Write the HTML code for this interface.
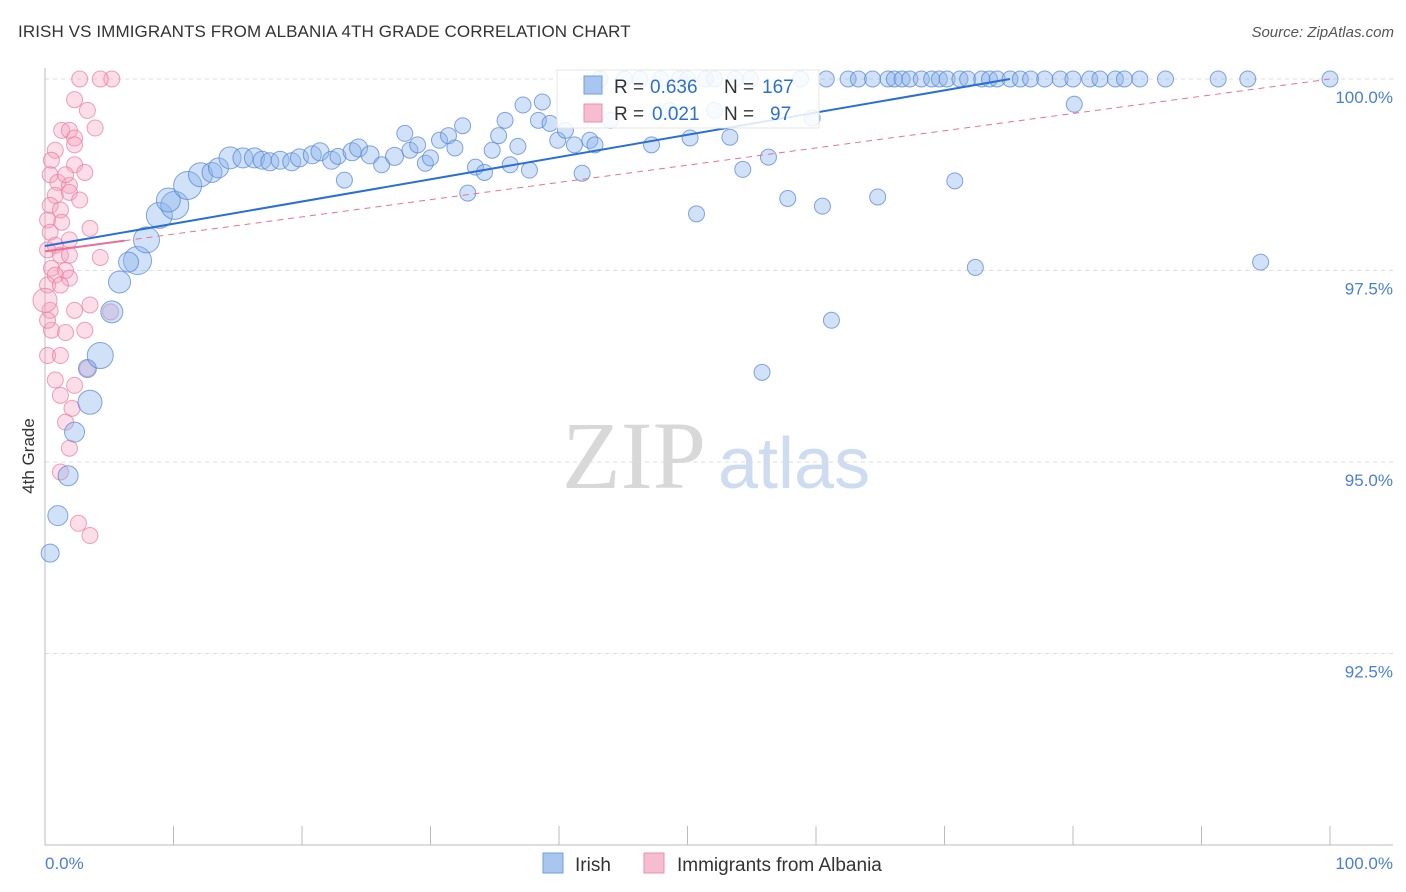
<!DOCTYPE html>
<html><head><meta charset="utf-8">
<style>
body{margin:0;background:#fff;font-family:"Liberation Sans",sans-serif;}
#wrap{position:relative;width:1406px;height:892px;overflow:hidden;}
.title{position:absolute;left:18px;top:22px;font-size:17px;color:#333;letter-spacing:0.1px}
.source{position:absolute;right:12px;top:24px;font-size:15px;color:#555;font-style:italic}
</style></head>
<body>
<div id="wrap">
<div class="title">IRISH VS IMMIGRANTS FROM ALBANIA 4TH GRADE CORRELATION CHART</div>
<div class="source">Source: ZipAtlas.com</div>
<svg id="svg" width="1406" height="892" style="position:absolute;left:0;top:0"></svg>
</div>
<script>
const yTicks=[100,97.5,95,92.5];
const yTickLabels=["100.0%","97.5%","95.0%","92.5%"];
const xTicks=[0,10,20,30,40,50,60,70,80,90,100];
const irishX=[0.4,1.0,1.8,2.3,3.5,3.3,4.3,5.2,5.8,7.2,6.5,7.9,8.9,10.1,9.6,11.1,12.1,13.0,13.5,14.4,15.4,16.3,16.9,17.5,18.3,19.2,19.8,20.8,21.4,22.3,22.8,23.3,23.9,24.4,25.3,26.2,27.2,28.0,28.4,29.0,29.6,30.0,30.7,31.4,31.9,32.5,32.9,33.5,34.2,34.8,35.3,35.8,36.2,36.8,37.2,37.7,38.4,38.7,39.3,39.9,40.5,41.2,41.8,42.4,42.8,44.0,45.1,46.3,47.2,47.9,48.6,49.4,50.2,50.7,51.4,52.1,53.3,53.7,54.3,54.9,56.3,57.8,58.8,59.7,60.5,60.8,61.2,62.5,63.3,64.4,64.8,65.6,66.1,66.7,67.3,68.2,69.0,69.6,70.2,70.8,71.2,71.8,72.4,72.9,73.5,74.1,75.1,75.9,76.7,77.8,79.0,80.0,80.1,81.3,82.1,83.3,84.0,85.2,87.2,91.3,93.6,94.6,100,55.8,50.0,52.1,43.2];
const irishY=[93.81,94.30,94.82,95.39,95.78,96.22,96.39,96.96,97.35,97.63,97.61,97.90,98.22,98.35,98.42,98.61,98.75,98.78,98.84,98.97,98.97,98.97,98.94,98.92,98.94,98.92,98.97,99.01,99.05,98.94,98.99,98.68,99.05,99.10,99.01,98.88,98.99,99.29,99.07,99.14,98.90,98.97,99.20,99.26,99.10,99.39,98.51,98.85,98.78,99.07,99.26,99.46,98.88,99.12,99.66,98.81,99.46,99.70,99.42,99.20,99.33,99.14,98.77,99.20,99.14,99.46,100,100,99.14,100,99.59,100,99.23,98.24,100,99.59,99.24,100,98.82,100,98.98,98.44,100,99.49,98.34,100,96.85,100,100,100,98.46,100,100,100,100,100,100,100,100,98.67,100,100,97.54,100,100,100,100,100,100,100,100,100,99.67,100,100,100,100,100,100,100,100,97.61,100,96.17,100,100,100];
const irishR=[9,10,10,10,12,9,13,11,11,14,10,13,13,14,12,14,12,10,10,11,10,10,9,9,9,9,9,9,9,9,8,8,9,9,9,8,9,8,8,8,8,8,8,8,8,8,8,8,8,8,8,8,8,8,8,8,8,8,8,8,8,8,8,8,8,8,8,8,8,8,8,8,8,8,8,8,8,8,8,8,8,8,8,8,8,8,8,8,8,8,8,8,8,8,8,8,8,8,8,8,8,8,8,8,8,8,8,8,8,8,8,8,8,8,8,8,8,8,8,8,8,8,8,8,8,8,8,8,8];
const albX=[2.7,5.2,2.3,3.3,1.3,1.9,3.9,2.3,0.8,2.3,0.5,2.3,3.1,0.4,1.0,1.9,1.6,0.8,1.9,2.7,0.4,1.2,0.2,1.3,3.5,0.4,1.9,0.8,0.2,1.2,1.9,4.3,0.5,1.6,0.8,1.9,0.2,1.2,3.5,0.4,2.3,5.1,0.5,1.6,3.1,0.2,1.2,3.3,0.8,2.3,1.2,2.1,1.6,1.9,1.2,2.6,3.5,0.2,4.3,0.0];
const albY=[100,100,99.73,99.59,99.33,99.33,99.36,99.23,99.07,99.14,98.94,98.88,98.78,98.75,98.65,98.61,98.75,98.48,98.52,98.42,98.35,98.29,98.16,98.13,98.05,98.00,97.90,97.83,97.77,97.70,97.70,97.67,97.53,97.50,97.44,97.40,97.31,97.31,97.05,96.98,96.98,96.96,96.72,96.69,96.72,96.39,96.39,96.22,96.07,96.00,95.87,95.70,95.52,95.18,94.87,94.20,94.04,96.85,100,97.11];
const irishTrend=[[0,97.82],[75.1,100]];
const albTrend=[[0,97.75],[100,100]];
const albSolidEnd=6.2;

const X0=45,X1=1330,YT=79,YB=845;
function sx(v){return X0+(X1-X0)*v/100;}
function sy(v){return YT+(100-v)/10*(YB-YT);}
const svg=document.getElementById('svg');
const NS='http://www.w3.org/2000/svg';
function mk(t,a,p){const e=document.createElementNS(NS,t);for(const k in a)e.setAttribute(k,a[k]);(p||svg).appendChild(e);return e;}

// watermark
let wm=mk('text',{x:634,y:488,'font-size':96,fill:'#d8d8d8','font-family':'Liberation Serif,serif','text-anchor':'middle'});
wm.textContent='ZIP';


let wm2=mk('text',{x:718,y:488,'font-size':72,fill:'#cddcf0','font-family':'Liberation Sans,sans-serif'});
wm2.textContent='atlas';



// gridlines + y labels
yTicks.forEach((v,i)=>{
  let g=mk('line',{x1:X0,x2:1393,y1:sy(v),y2:sy(v),stroke:'#dddddd','stroke-dasharray':'4,4'});
  
  
  let t=mk('text',{x:1393,y:sy(v)+24,'text-anchor':'end','font-size':17,fill:'#4a7fd6'});
  t.textContent=yTickLabels[i];
  
  
});
// axes
let ax=mk('line',{x1:X0,x2:X0,y1:68,y2:YB,stroke:'#bbb'});


let bx=mk('line',{x1:X0,x2:1393,y1:YB,y2:YB,stroke:'#bbb'});


xTicks.forEach(v=>{
  let t=mk('line',{x1:sx(v),x2:sx(v),y1:826,y2:YB,stroke:'#bbb'});
  
  
});
let xl0=mk('text',{x:45,y:869,'font-size':17,fill:'#4a7fd6'});xl0.textContent='0.0%';


let xl1=mk('text',{x:1393,y:869,'font-size':17,fill:'#4a7fd6','text-anchor':'end'});xl1.textContent='100.0%';


let yt=mk('text',{x:34,y:456,'font-size':17,fill:'#333','text-anchor':'middle',transform:'rotate(-90 34 456)'});yt.textContent='4th Grade';



// points
albX.forEach((x,i)=>{
  let c=mk('circle',{cx:sx(x),cy:sy(albY[i]),r:(i==albX.length-1?12:8),fill:'rgba(244,160,190,0.35)',stroke:'rgba(236,120,160,0.7)','stroke-width':1});
  
  
});
irishX.forEach((x,i)=>{
  let c=mk('circle',{cx:sx(x),cy:sy(irishY[i]),r:irishR[i],fill:'rgba(140,180,235,0.4)',stroke:'rgba(80,130,210,0.7)','stroke-width':1});
  
  
});
// trends
let it=mk('line',{x1:sx(irishTrend[0][0]),y1:sy(irishTrend[0][1]),x2:sx(irishTrend[1][0]),y2:sy(irishTrend[1][1]),stroke:'#2a6fd6','stroke-width':2});


function albYat(x){return albTrend[0][1]+(albTrend[1][1]-albTrend[0][1])*(x-albTrend[0][0])/(albTrend[1][0]-albTrend[0][0]);}
let at1=mk('line',{x1:sx(0),y1:sy(albYat(0)),x2:sx(albSolidEnd),y2:sy(albYat(albSolidEnd)),stroke:'#e8709a','stroke-width':2});


let at2=mk('line',{x1:sx(albSolidEnd),y1:sy(albYat(albSolidEnd)),x2:sx(100),y2:sy(albYat(100)),stroke:'#e8709a','stroke-width':1,'stroke-dasharray':'6,5'});



// top legend
let lg=mk('g',{});


mk('rect',{x:557,y:70,width:262,height:58,fill:'rgba(255,255,255,0.85)',stroke:'#e4e4e4'},lg);
mk('rect',{x:584,y:76,width:18,height:18,fill:'#a9c6ef',stroke:'#6f9ee0'},lg);
mk('rect',{x:584,y:104,width:18,height:18,fill:'#f6bcd0',stroke:'#ec8fb0'},lg);
function tx(x,y,s,c){let t=mk('text',{x:x,y:y,'font-size':19,fill:c},lg);t.textContent=s;return t;}
tx(614,93,'R = ','#333');tx(650,93,'0.636','#2a6fd6');tx(724,93,'N = ','#333');tx(762,93,'167','#2a6fd6');
tx(614,120,'R = ','#333');tx(652,120,'0.021','#2a6fd6');tx(724,120,'N = ','#333');tx(770,120,'97','#2a6fd6');

// bottom legend
let b1=mk('rect',{x:543,y:853,width:20,height:20,fill:'#a9c6ef',stroke:'#6f9ee0'});


let bt1=mk('text',{x:575,y:871,'font-size':19,fill:'#333'});bt1.textContent='Irish';


let b2=mk('rect',{x:644,y:853,width:20,height:20,fill:'#f6bcd0',stroke:'#ec8fb0'});


let bt2=mk('text',{x:677,y:871,'font-size':19,fill:'#333'});bt2.textContent='Immigrants from Albania';


</script>
</body></html>
